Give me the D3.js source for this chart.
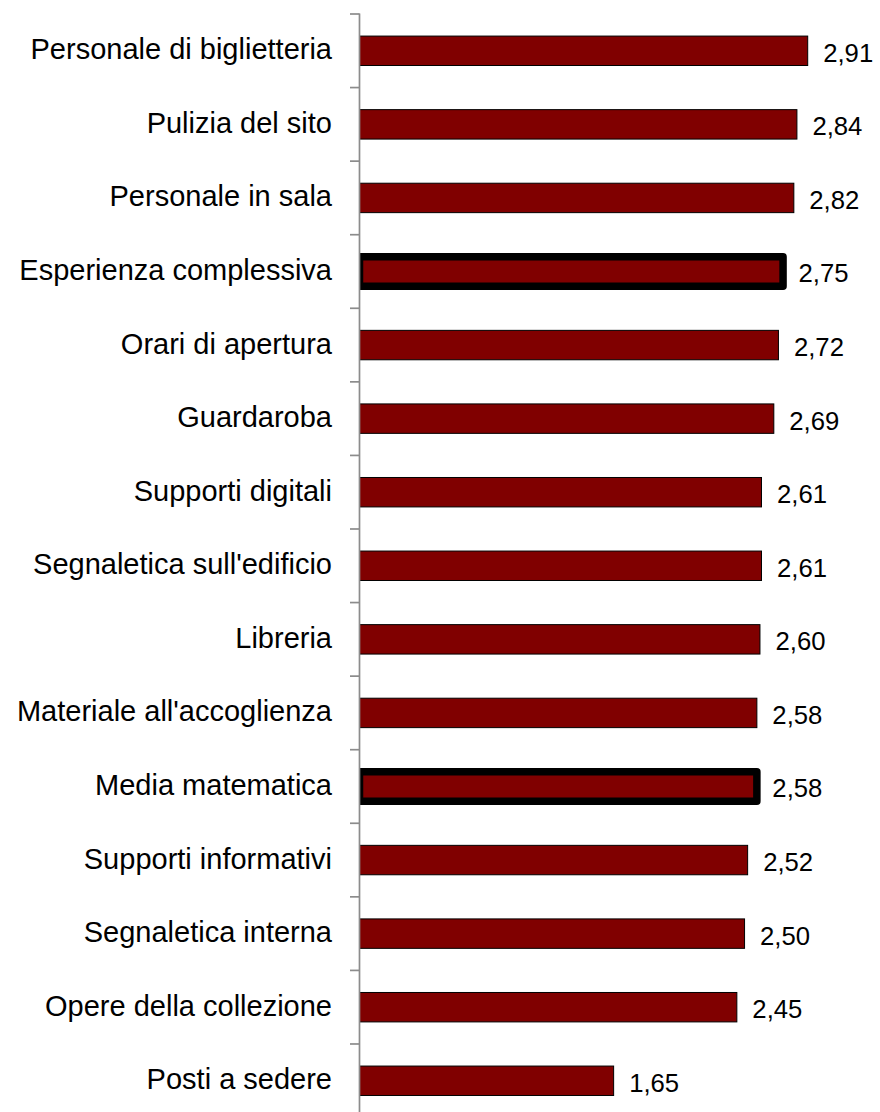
<!DOCTYPE html>
<html><head><meta charset="utf-8">
<script src="https://cdn.jsdelivr.net/npm/d3@7"></script>
<style>html,body{margin:0;padding:0;background:#fff;}svg{display:block;}</style>
</head><body>
<svg id="chart" width="880" height="1112"></svg>
<script>
const categories = ["Personale di biglietteria","Pulizia del sito","Personale in sala","Esperienza complessiva","Orari di apertura","Guardaroba","Supporti digitali","Segnaletica sull'edificio","Libreria","Materiale all'accoglienza","Media matematica","Supporti informativi","Segnaletica interna","Opere della collezione","Posti a sedere"];
const values = [2.91,2.84,2.82,2.75,2.72,2.69,2.61,2.61,2.60,2.58,2.58,2.52,2.50,2.45,1.65];
const highlighted = ["Esperienza complessiva","Media matematica"];

(function(){
const svg = d3.select("#chart");
const x0 = 359.5, y0 = 14, band = 73.57;
const x = d3.scaleLinear().domain([0, 2.91]).range([x0, 807.7]);
const y = d3.scaleBand().domain(categories).range([y0, y0 + band*categories.length]).paddingInner(0.6).paddingOuter(0.3);
const fmt = v => d3.format(".2f")(v).replace(".", ",");

const data = categories.map((c,i)=>({c, v: values[i], h: highlighted.includes(c)}));

svg.append("defs").append("clipPath").attr("id","clip")
  .append("rect").attr("x", x0).attr("y", 0).attr("width", 880).attr("height", 1112);

const g = svg.append("g").attr("clip-path","url(#clip)");
g.selectAll("rect.bar").data(data).join("rect")
  .attr("class","bar")
  .attr("x", x0)
  .attr("y", d => y(d.c))
  .attr("width", d => x(d.v) - x0)
  .attr("height", y.bandwidth())
  .attr("fill", "#800000")
  .attr("stroke", "#000")
  .attr("stroke-width", d => d.h ? 7.5 : 1)
  .attr("stroke-linejoin", d => d.h ? "round" : "miter");

const axisG = svg.append("g");
axisG.append("line").attr("x1", x0).attr("x2", x0).attr("y1", 13.5).attr("y2", 1112)
  .attr("stroke", "#8c8c8c").attr("stroke-width", 1.7);
const tickYs = d3.range(categories.length + 1).map(i => y0 + band*i);
axisG.selectAll("line.tick").data(tickYs).join("line").attr("class","tick")
  .attr("x1", 350).attr("x2", x0).attr("y1", d=>d).attr("y2", d=>d)
  .attr("stroke", "#8c8c8c").attr("stroke-width", 1.7);

svg.selectAll("text.cat").data(data).join("text").attr("class","cat")
  .attr("x", 332)
  .attr("y", d => y(d.c) + y.bandwidth()/2 + 8.5)
  .attr("text-anchor","end")
  .attr("font-family","'Liberation Sans', Arial, sans-serif")
  .attr("font-size", 29)
  .attr("fill","#000")
  .text(d => d.c);

svg.selectAll("text.val").data(data).join("text").attr("class","val")
  .attr("x", d => x(d.v) + 15.5)
  .attr("y", d => y(d.c) + y.bandwidth()/2 + 11)
  .attr("font-family","'Liberation Sans', Arial, sans-serif")
  .attr("font-size", 25.7)
  .attr("fill","#000")
  .text(d => fmt(d.v));
})();
</script>
</body></html>
